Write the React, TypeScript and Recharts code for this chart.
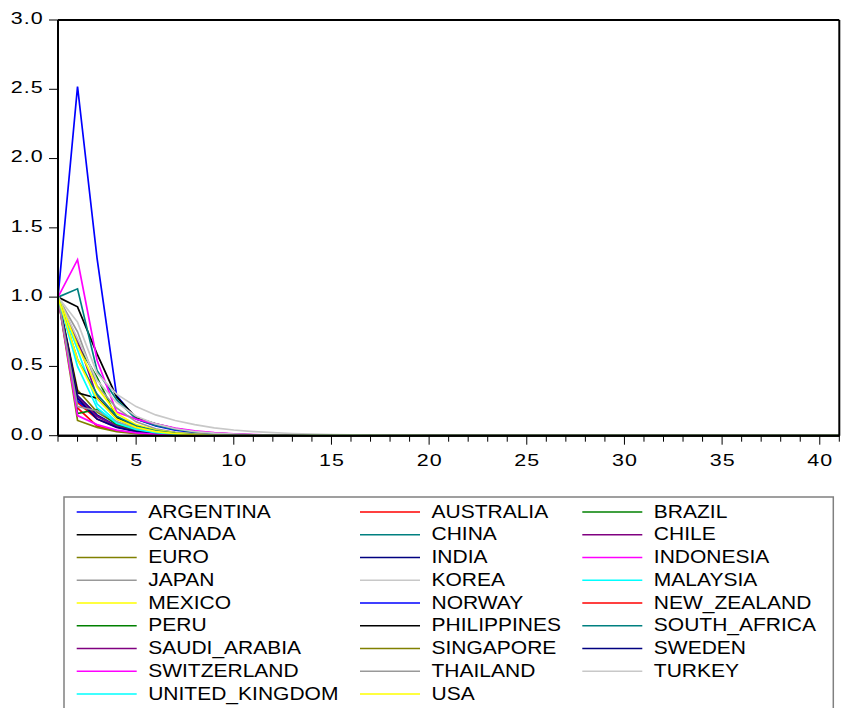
import React from 'react';
import { LineChart, Line, XAxis, YAxis, ReferenceLine } from 'recharts';

// impulse responses, periods 1..41
const periods = [
  1, 2, 3, 4, 5, 6, 7, 8, 9, 10,
  11, 12, 13, 14, 15, 16, 17, 18, 19, 20,
  21, 22, 23, 24, 25, 26, 27, 28, 29, 30,
  31, 32, 33, 34, 35, 36, 37, 38, 39, 40, 41,
];

const yTicks = [0, 0.5, 1, 1.5, 2, 2.5, 3];

const argentina = [
  1, 2.52, 1.28, 0.29, 0.12, 0.07, 0.04, 0.024, 0.014, 0.008,
  0.005, 0.003, 0.002, 0.001, 0, 0, 0, 0, 0, 0,
  0, 0, 0, 0, 0, 0, 0, 0, 0, 0,
  0, 0, 0, 0, 0, 0, 0, 0, 0, 0, 0,
];
const australia = [
  1, 0.24, 0.12, 0.064, 0.032, 0.016, 0.008, 0.004, 0.002, 0.001,
  0, 0, 0, 0, 0, 0, 0, 0, 0, 0,
  0, 0, 0, 0, 0, 0, 0, 0, 0, 0,
  0, 0, 0, 0, 0, 0, 0, 0, 0, 0, 0,
];
const brazil = [
  1, 0.66, 0.42, 0.13, 0.07, 0.04, 0.022, 0.012, 0.006, 0.003,
  0.002, 0.001, 0, 0, 0, 0, 0, 0, 0, 0,
  0, 0, 0, 0, 0, 0, 0, 0, 0, 0,
  0, 0, 0, 0, 0, 0, 0, 0, 0, 0, 0,
];
const canada = [
  1, 0.93, 0.59, 0.28, 0.13, 0.085, 0.052, 0.03, 0.018, 0.011,
  0.006, 0.004, 0.002, 0.001, 0, 0, 0, 0, 0, 0,
  0, 0, 0, 0, 0, 0, 0, 0, 0, 0,
  0, 0, 0, 0, 0, 0, 0, 0, 0, 0, 0,
];
const china = [
  1, 1.06, 0.47, 0.26, 0.12, 0.075, 0.045, 0.027, 0.016, 0.009,
  0.005, 0.003, 0.002, 0.001, 0, 0, 0, 0, 0, 0,
  0, 0, 0, 0, 0, 0, 0, 0, 0, 0,
  0, 0, 0, 0, 0, 0, 0, 0, 0, 0, 0,
];
const chile = [
  1, 0.69, 0.28, 0.12, 0.06, 0.03, 0.015, 0.008, 0.004, 0.002,
  0.001, 0, 0, 0, 0, 0, 0, 0, 0, 0,
  0, 0, 0, 0, 0, 0, 0, 0, 0, 0,
  0, 0, 0, 0, 0, 0, 0, 0, 0, 0, 0,
];
const euro = [
  1, 0.33, 0.17, 0.085, 0.043, 0.021, 0.011, 0.005, 0.003, 0.001,
  0, 0, 0, 0, 0, 0, 0, 0, 0, 0,
  0, 0, 0, 0, 0, 0, 0, 0, 0, 0,
  0, 0, 0, 0, 0, 0, 0, 0, 0, 0, 0,
];
const india = [
  1, 0.29, 0.15, 0.07, 0.035, 0.017, 0.008, 0.004, 0.002, 0.001,
  0, 0, 0, 0, 0, 0, 0, 0, 0, 0,
  0, 0, 0, 0, 0, 0, 0, 0, 0, 0,
  0, 0, 0, 0, 0, 0, 0, 0, 0, 0, 0,
];
const indonesia = [
  1, 1.27, 0.545, 0.17, 0.12, 0.085, 0.055, 0.035, 0.022, 0.013,
  0.008, 0.005, 0.003, 0.002, 0.001, 0, 0, 0, 0, 0,
  0, 0, 0, 0, 0, 0, 0, 0, 0, 0,
  0, 0, 0, 0, 0, 0, 0, 0, 0, 0, 0,
];
const japan = [
  1, 0.75, 0.36, 0.2, 0.1, 0.05, 0.025, 0.013, 0.007, 0.004,
  0.002, 0.001, 0, 0, 0, 0, 0, 0, 0, 0,
  0, 0, 0, 0, 0, 0, 0, 0, 0, 0,
  0, 0, 0, 0, 0, 0, 0, 0, 0, 0, 0,
];
const korea = [
  1, 0.7, 0.4, 0.24, 0.14, 0.085, 0.05, 0.03, 0.018, 0.011,
  0.007, 0.004, 0.003, 0.002, 0.001, 0, 0, 0, 0, 0,
  0, 0, 0, 0, 0, 0, 0, 0, 0, 0,
  0, 0, 0, 0, 0, 0, 0, 0, 0, 0, 0,
];
const malaysia = [
  1, 0.62, 0.23, 0.1, 0.05, 0.025, 0.012, 0.006, 0.003, 0.001,
  0, 0, 0, 0, 0, 0, 0, 0, 0, 0,
  0, 0, 0, 0, 0, 0, 0, 0, 0, 0,
  0, 0, 0, 0, 0, 0, 0, 0, 0, 0, 0,
];
const mexico = [
  1, 0.65, 0.35, 0.16, 0.08, 0.04, 0.02, 0.01, 0.005, 0.002,
  0.001, 0, 0, 0, 0, 0, 0, 0, 0, 0,
  0, 0, 0, 0, 0, 0, 0, 0, 0, 0,
  0, 0, 0, 0, 0, 0, 0, 0, 0, 0, 0,
];
const norway = [
  1, 0.25, 0.14, 0.07, 0.035, 0.017, 0.008, 0.004, 0.002, 0.001,
  0, 0, 0, 0, 0, 0, 0, 0, 0, 0,
  0, 0, 0, 0, 0, 0, 0, 0, 0, 0,
  0, 0, 0, 0, 0, 0, 0, 0, 0, 0, 0,
];
const newZealand = [
  1, 0.2, 0.07, 0.035, 0.018, 0.009, 0.004, 0.002, 0.001, 0,
  0, 0, 0, 0, 0, 0, 0, 0, 0, 0,
  0, 0, 0, 0, 0, 0, 0, 0, 0, 0,
  0, 0, 0, 0, 0, 0, 0, 0, 0, 0, 0,
];
const peru = [
  1, 0.16, 0.19, 0.08, 0.035, 0.015, 0.007, 0.003, 0.001, 0,
  0, 0, 0, 0, 0, 0, 0, 0, 0, 0,
  0, 0, 0, 0, 0, 0, 0, 0, 0, 0,
  0, 0, 0, 0, 0, 0, 0, 0, 0, 0, 0,
];
const philippines = [
  1, 0.31, 0.27, 0.13, 0.065, 0.03, 0.015, 0.007, 0.003, 0.001,
  0, 0, 0, 0, 0, 0, 0, 0, 0, 0,
  0, 0, 0, 0, 0, 0, 0, 0, 0, 0,
  0, 0, 0, 0, 0, 0, 0, 0, 0, 0, 0,
];
const southAfrica = [
  1, 0.55, 0.3, 0.14, 0.07, 0.035, 0.017, 0.008, 0.004, 0.002,
  0.001, 0, 0, 0, 0, 0, 0, 0, 0, 0,
  0, 0, 0, 0, 0, 0, 0, 0, 0, 0,
  0, 0, 0, 0, 0, 0, 0, 0, 0, 0, 0,
];
const saudiArabia = [
  1, 0.28, 0.14, 0.07, 0.03, 0.015, 0.007, 0.003, 0.001, 0,
  0, 0, 0, 0, 0, 0, 0, 0, 0, 0,
  0, 0, 0, 0, 0, 0, 0, 0, 0, 0,
  0, 0, 0, 0, 0, 0, 0, 0, 0, 0, 0,
];
const singapore = [
  1, 0.11, 0.06, 0.03, 0.015, 0.007, 0.003, 0.001, 0, 0,
  0, 0, 0, 0, 0, 0, 0, 0, 0, 0,
  0, 0, 0, 0, 0, 0, 0, 0, 0, 0,
  0, 0, 0, 0, 0, 0, 0, 0, 0, 0, 0,
];
const sweden = [
  1, 0.27, 0.12, 0.06, 0.03, 0.014, 0.006, 0.003, 0.001, 0,
  0, 0, 0, 0, 0, 0, 0, 0, 0, 0,
  0, 0, 0, 0, 0, 0, 0, 0, 0, 0,
  0, 0, 0, 0, 0, 0, 0, 0, 0, 0, 0,
];
const switzerland = [
  1, 0.145, 0.08, 0.04, 0.02, 0.01, 0.005, 0.002, 0.001, 0,
  0, 0, 0, 0, 0, 0, 0, 0, 0, 0,
  0, 0, 0, 0, 0, 0, 0, 0, 0, 0,
  0, 0, 0, 0, 0, 0, 0, 0, 0, 0, 0,
];
const thailand = [
  1, 0.21, 0.18, 0.1, 0.05, 0.025, 0.012, 0.006, 0.003, 0.001,
  0, 0, 0, 0, 0, 0, 0, 0, 0, 0,
  0, 0, 0, 0, 0, 0, 0, 0, 0, 0,
  0, 0, 0, 0, 0, 0, 0, 0, 0, 0, 0,
];
const turkey = [
  1, 0.82, 0.45, 0.3, 0.21, 0.15, 0.11, 0.08, 0.057, 0.041,
  0.03, 0.022, 0.016, 0.011, 0.008, 0.006, 0.004, 0.003, 0.002, 0.001,
  0, 0, 0, 0, 0, 0, 0, 0, 0, 0,
  0, 0, 0, 0, 0, 0, 0, 0, 0, 0, 0,
];
const unitedKingdom = [
  1, 0.5, 0.2, 0.09, 0.045, 0.022, 0.011, 0.005, 0.002, 0.001,
  0, 0, 0, 0, 0, 0, 0, 0, 0, 0,
  0, 0, 0, 0, 0, 0, 0, 0, 0, 0,
  0, 0, 0, 0, 0, 0, 0, 0, 0, 0, 0,
];
const usa = [
  1, 0.55, 0.27, 0.12, 0.06, 0.03, 0.015, 0.007, 0.003, 0.001,
  0, 0, 0, 0, 0, 0, 0, 0, 0, 0,
  0, 0, 0, 0, 0, 0, 0, 0, 0, 0,
  0, 0, 0, 0, 0, 0, 0, 0, 0, 0, 0,
];

const series = [
  { name: 'ARGENTINA', values: argentina, color: '#0000FF' },
  { name: 'AUSTRALIA', values: australia, color: '#FF0000' },
  { name: 'BRAZIL', values: brazil, color: '#008000' },
  { name: 'CANADA', values: canada, color: '#000000' },
  { name: 'CHINA', values: china, color: '#008080' },
  { name: 'CHILE', values: chile, color: '#800080' },
  { name: 'EURO', values: euro, color: '#808000' },
  { name: 'INDIA', values: india, color: '#000080' },
  { name: 'INDONESIA', values: indonesia, color: '#FF00FF' },
  { name: 'JAPAN', values: japan, color: '#999999' },
  { name: 'KOREA', values: korea, color: '#C8C8C8' },
  { name: 'MALAYSIA', values: malaysia, color: '#00FFFF' },
  { name: 'MEXICO', values: mexico, color: '#FFFF00' },
  { name: 'NORWAY', values: norway, color: '#0000FF' },
  { name: 'NEW_ZEALAND', values: newZealand, color: '#FF0000' },
  { name: 'PERU', values: peru, color: '#008000' },
  { name: 'PHILIPPINES', values: philippines, color: '#000000' },
  { name: 'SOUTH_AFRICA', values: southAfrica, color: '#008080' },
  { name: 'SAUDI_ARABIA', values: saudiArabia, color: '#800080' },
  { name: 'SINGAPORE', values: singapore, color: '#808000' },
  { name: 'SWEDEN', values: sweden, color: '#000080' },
  { name: 'SWITZERLAND', values: switzerland, color: '#FF00FF' },
  { name: 'THAILAND', values: thailand, color: '#999999' },
  { name: 'TURKEY', values: turkey, color: '#C8C8C8' },
  { name: 'UNITED_KINGDOM', values: unitedKingdom, color: '#00FFFF' },
  { name: 'USA', values: usa, color: '#FFFF00' },
];

const rows = periods.map((p, i) => {
  const row: any = { period: p };
  series.forEach((s) => {
    row[s.name] = s.values[i];
  });
  return row;
});

const FONT = '"Liberation Sans", Arial, Helvetica, sans-serif';
// EViews draws wide glyphs, so the text is stretched a little horizontally
const AXIS_FONT = 16.5;
const AXIS_SX = 1.3;
const AXIS_SPACING = 0.8;

const XTick = (props: any) => {
  const { x, y, payload } = props;
  const major = payload.value % 5 === 0;
  return (
    <g>
      <line x1={x} x2={x} y1={y} y2={y + (major ? 9 : 6)} stroke="#000" strokeWidth={1} />
      {major && (
        <text
          transform={`translate(${x + (AXIS_SPACING * AXIS_SX) / 2} ${y + 30}) scale(${AXIS_SX} 1)`}
          textAnchor="middle"
          fontSize={AXIS_FONT}
          fontFamily={FONT}
          fill="#000"
          style={{ letterSpacing: AXIS_SPACING }}
        >
          {payload.value}
        </text>
      )}
    </g>
  );
};

const YTick = (props: any) => {
  const { x, y, payload } = props;
  return (
    <text
      transform={`translate(${x - 3.2} ${y + 3.9}) scale(${AXIS_SX} 1)`}
      textAnchor="end"
      fontSize={AXIS_FONT}
      fontFamily={FONT}
      fill="#000"
      style={{ letterSpacing: AXIS_SPACING }}
    >
      {payload.value.toFixed(1)}
    </text>
  );
};

// legend layout (EViews style, 3 columns)
const legendCols = [76.7, 360, 582.3];
const legendTop = 480;

const Legend = () => (
  <svg width={842} height={228} style={{ position: 'absolute', left: 0, top: legendTop }}>
    <rect x={64} y={17} width={769.3} height={300} fill="none" stroke="#808080" strokeWidth={1.5} />
    {series.map((s, i) => {
      const col = i % 3;
      const row = Math.floor(i / 3);
      const cy = 511 + row * 22.75 - legendTop;
      const lx = legendCols[col];
      return (
        <g key={s.name}>
          <line x1={lx} x2={lx + 60} y1={cy + 1} y2={cy + 1} stroke={s.color} strokeWidth={1.6} />
          <text
            transform={`translate(${lx + 71.5} ${cy + 6.7}) scale(1.13 1)`}
            fontSize={18.6}
            fontFamily={FONT}
            fill="#000"
          >
            {s.name}
          </text>
        </g>
      );
    })}
  </svg>
);

export default function App() {
  return (
    <div style={{ position: 'absolute', left: 0, top: 0, width: 842, height: 708, overflow: 'hidden', background: '#fff' }}>
      <LineChart width={842} height={480} data={rows} margin={{ top: 20, right: 2.7, left: 0, bottom: 4.3 }}>
        <XAxis
          dataKey="period"
          type="number"
          domain={[1, 41]}
          ticks={periods}
          interval={0}
          tick={<XTick />}
          tickLine={false}
          tickSize={0}
          tickMargin={0}
          height={40}
          axisLine={{ stroke: '#000', strokeWidth: 2 }}
        />
        <YAxis
          type="number"
          domain={[0, 3]}
          ticks={yTicks}
          interval={0}
          width={58}
          tickSize={9}
          tickMargin={2}
          tick={<YTick />}
          tickLine={{ stroke: '#000' }}
          axisLine={{ stroke: '#000', strokeWidth: 2 }}
        />
        {series.map((s) => (
          <Line
            key={s.name}
            dataKey={s.name}
            type="linear"
            stroke={s.color}
            strokeWidth={1.7}
            dot={false}
            activeDot={false}
            isAnimationActive={false}
          />
        ))}
        <ReferenceLine y={3} stroke="#000" strokeWidth={2} />
        <ReferenceLine x={41} stroke="#000" strokeWidth={2} />
        <ReferenceLine y={0} stroke="#000" strokeWidth={2} />
      </LineChart>
      <Legend />
    </div>
  );
}
